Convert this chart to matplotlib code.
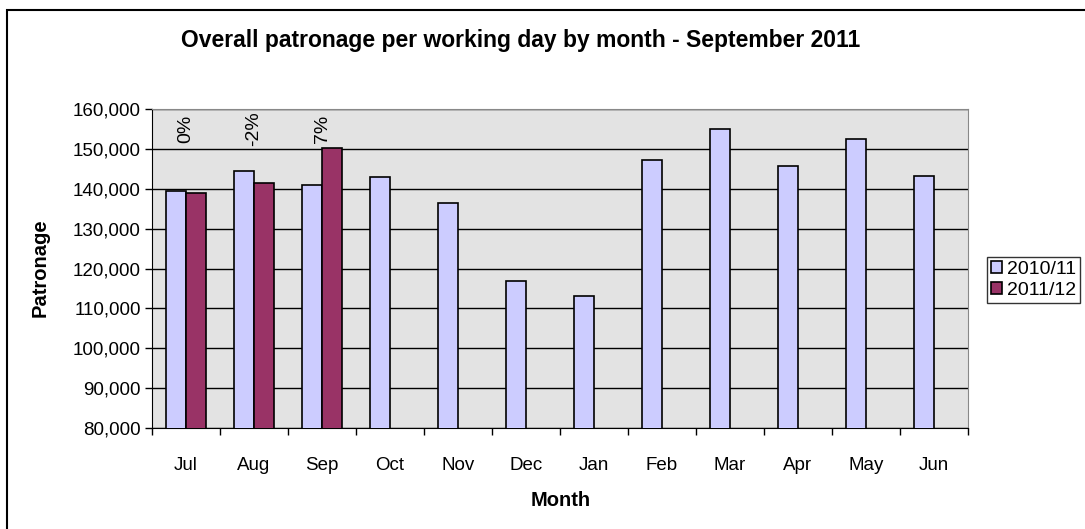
import matplotlib.pyplot as plt
import numpy as np
from matplotlib.patches import Rectangle
from matplotlib.ticker import FuncFormatter

months = ['Jul', 'Aug', 'Sep', 'Oct', 'Nov', 'Dec', 'Jan', 'Feb', 'Mar', 'Apr', 'May', 'Jun']
y2010 = [139400, 144500, 141000, 142900, 136600, 116800, 113200, 147300, 155100, 145700, 152500, 143300]
y2011 = [139000, 141400, 150200]
pct_labels = ['0%', '-2%', '7%']

plt.rcParams['font.family'] = ['Liberation Sans', 'DejaVu Sans']

W, H = 1085, 529
fig = plt.figure(figsize=(W / 100, H / 100), dpi=100)
ax = fig.add_axes([152 / W, 1 - 428 / H, (968 - 152) / W, (428 - 109.3) / H])

ax.set_facecolor('#E3E3E3')
x = np.arange(len(months))
w = 0.29
ax.bar(x - w / 2, y2010, w, color='#CCCCFF', edgecolor='black', linewidth=1.2, label='2010/11', zorder=3)
ax.bar(x[:len(y2011)] + w / 2, y2011, w, color='#993366', edgecolor='black', linewidth=1.2, label='2011/12', zorder=3)

# percentage change labels
for i, t in enumerate(pct_labels):
    ax.text(x[i], 155200, t, rotation=90, ha='center', va='center', fontsize=14, zorder=4)

ax.set_ylim(80000, 160000)
ax.set_yticks(np.arange(80000, 160001, 10000))
ax.yaxis.set_major_formatter(FuncFormatter(lambda v, p: f'{int(v):,}'))
ax.grid(axis='y', color='black', linewidth=1, zorder=1)
ax.set_xlim(-0.5, len(months) - 0.5)
ax.set_xticks(np.arange(-0.5, len(months), 1))
ax.set_xticklabels([])
ax.set_xticks(x, minor=True)
ax.set_xticklabels(months, minor=True)
ax.tick_params(axis='x', which='major', length=5, direction='out', width=1)
ax.tick_params(axis='x', which='minor', length=0, pad=21, labelsize=13.5)
ax.tick_params(axis='y', length=5, direction='out', width=1, labelsize=13.5, pad=3)

for s in ['top', 'right']:
    ax.spines[s].set_color('#888888')
for s in ['left', 'bottom']:
    ax.spines[s].set_color('black')

fig.text(40 / W, 1 - 268 / H, 'Patronage', rotation=90, ha='center', va='center',
         fontsize=14.5, fontweight='bold')
fig.text(561 / W, 1 - 500 / H, 'Month', ha='center', va='center',
         fontsize=14.5, fontweight='bold')

fig.text(521 / W, 1 - 41 / H, 'Overall patronage per working day by month - September 2011',
         ha='center', va='center', fontsize=16.5, fontweight='bold')

leg = fig.legend(loc='upper left', bbox_to_anchor=(987 / W, 1 - 257 / H), frameon=True,
                 fancybox=False, edgecolor='black', fontsize=14, handlelength=0.55,
                 handleheight=0.55, handletextpad=0.3, borderaxespad=0, borderpad=0.2,
                 labelspacing=0.2)
leg.get_frame().set_linewidth(1)

# outer chart border
fig.patches.append(Rectangle((6.5 / W, -0.1), 1.2, 1 - 10 / H + 0.1, transform=fig.transFigure,
                             fill=False, edgecolor='black', linewidth=1.5))

fig.savefig('out.png', dpi=100)
